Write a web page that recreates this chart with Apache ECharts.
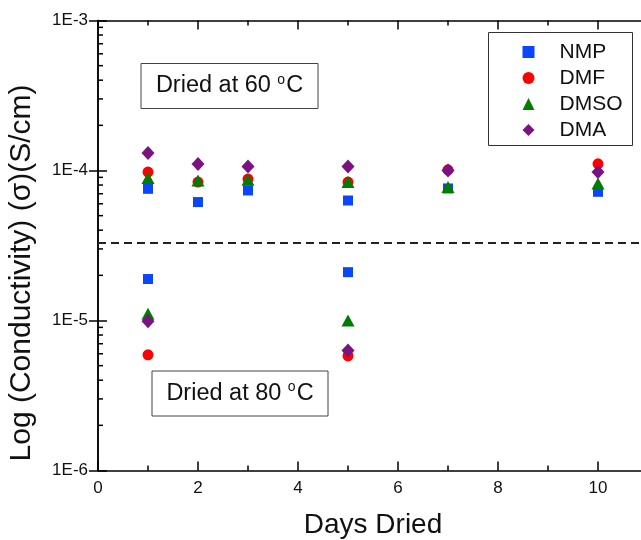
<!DOCTYPE html>
<html><head><meta charset="utf-8">
<script src="https://cdn.jsdelivr.net/npm/echarts@6/dist/echarts.min.js"></script>
<style>html,body{margin:0;padding:0;background:#fff}#c{width:641px;height:540px}</style>
</head><body><div id="c"></div>
<script>
const FONT = '"Liberation Sans", Arial, Helvetica, sans-serif';
const solvents = ['NMP', 'DMF', 'DMSO', 'DMA'];
const days60 = [1, 2, 3, 5, 7, 10];
const days80 = [1, 5];
const nmp60 = [7.55e-5, 6.16e-5, 7.36e-5, 6.31e-5, 7.59e-5, 7.21e-5];
const dmf60 = [9.76e-5, 8.37e-5, 8.76e-5, 8.37e-5, 1.01e-4, 1.108e-4];
const dmso60 = [8.9e-5, 8.58e-5, 8.67e-5, 8.37e-5, 7.75e-5, 8.19e-5];
const dma60 = [1.306e-4, 1.104e-4, 1.063e-4, 1.063e-4, 1.0e-4, 9.76e-5];
const nmp80 = [1.89e-5, 2.1e-5];
const dmf80 = [5.9e-6, 5.8e-6];
const dmso80 = [1.11e-5, 1.0e-5];
const dma80 = [9.9e-6, 6.3e-6];
const separatorValue = 3.28e-5;
const separatorDays = [0, 11];
const xTickLabels = ['0', '2', '4', '6', '8', '10'];
const yTickLabels = ['1E-6', '1E-5', '1E-4', '1E-3'];
const xName = 'Days Dried';
const yName = 'Log (Conductivity) (\u03C3)(S/cm)';

const values60 = [nmp60, dmf60, dmso60, dma60];
const values80 = [nmp80, dmf80, dmso80, dma80];
const colors = ['#0a45ff', '#ff0000', '#007c00', '#7a1282'];
const symbols = ['rect', 'circle', 'triangle', 'diamond'];
const sizes = [10, 11, [13, 12], [13, 14]];

function pairs(xs, ys) { return xs.map((x, i) => [x, ys[i]]); }

const chart = echarts.init(document.getElementById('c'), null, { renderer: 'canvas' });

const series = [{
  name: 'separator', type: 'line', xAxisIndex: 0, yAxisIndex: 0,
  showSymbol: false, symbol: 'none', silent: true, z: 2,
  lineStyle: { color: '#222', width: 2, type: [8, 5] },
  data: separatorDays.map(d => [d, separatorValue])
}].concat(solvents.map((name, i) => ({
  name, type: 'scatter', xAxisIndex: 0, yAxisIndex: 0,
  symbol: symbols[i], symbolSize: sizes[i], symbolKeepAspect: true,
  itemStyle: { color: colors[i], opacity: 1 },
  data: pairs(days60, values60[i]).concat(pairs(days80, values80[i])),
  z: 3 + i
})));

const axisLineStyle = { color: '#000', width: 1.5 };
function xAx(pos, main) {
  return {
    type: 'value', position: pos, min: 0, max: 11, interval: 2,
    axisLine: { show: true, onZero: false, lineStyle: axisLineStyle },
    axisTick: { show: true, inside: true, length: 9, lineStyle: { color: '#000', width: 1.5 } },
    splitLine: { show: false },
    axisLabel: main ? {
      show: true, margin: 9, fontSize: 17, color: '#111', fontFamily: FONT,
      showMaxLabel: false,
      formatter: v => { const k = xTickLabels.indexOf(String(v)); return k >= 0 ? xTickLabels[k] : ''; }
    } : { show: false },
    name: main ? xName : '', nameLocation: 'middle', nameGap: 41,
    nameTextStyle: { fontSize: 28, color: '#111', fontFamily: FONT }
  };
}
function yAx(pos, main) {
  return {
    type: 'log', logBase: 10, position: pos, min: 1e-6, max: 1e-3,
    axisLine: { show: true, lineStyle: axisLineStyle },
    axisTick: { show: true, inside: true, length: 9, lineStyle: { color: '#000', width: 1.5 } },
    splitLine: { show: false },
    axisLabel: main ? {
      show: true, margin: 10, fontSize: 17, color: '#111', fontFamily: FONT,
      formatter: v => { const e = Math.round(Math.log10(v)); return yTickLabels.find(s => s === '1E' + e) || ''; }
    } : { show: false }
  };
}

const richBox = {
  a: { fontSize: 23.5, fill: '#111', fontFamily: FONT, lineHeight: 26 },
  s: { fontSize: 14, fill: '#111', fontFamily: FONT, verticalAlign: 'top', lineHeight: 13, padding: [0, 1, 0, 0] }
};

chart.setOption({
  animation: false,
  backgroundColor: '#fff',
  textStyle: { fontFamily: FONT },
  grid: { left: 98, width: 550, top: 20.5, bottom: 69.5, containLabel: false, outerBoundsMode: 'none' },
  xAxis: [xAx('bottom', true), xAx('top', false)],
  yAxis: [yAx('left', true), yAx('right', false)],
  legend: {
    orient: 'vertical', left: 488.5, top: 32.5,
    data: solvents,
    itemWidth: 12, itemHeight: 12, itemGap: 5,
    padding: [9, 10, 5, 34],
    borderColor: '#333', borderWidth: 1, backgroundColor: '#fff',
    textStyle: { fontSize: 21, color: '#111', fontFamily: FONT, padding: [0, 0, 0, 20] },
    selectedMode: false
  },
  series,
  graphic: { elements: [
    { id: 'box60', type: 'rect', shape: { x: 141, y: 63.5, width: 177, height: 45 },
      style: { fill: '#fff', stroke: '#444', lineWidth: 1 }, z: 10 },
    { id: 'txt60', type: 'text', x: 229.5, y: 86, z: 11,
      style: { text: '{a|Dried at 60 }{s|o}{a|C}', align: 'center', verticalAlign: 'middle', rich: richBox } },
    { id: 'box80', type: 'rect', shape: { x: 152, y: 371, width: 176, height: 45 },
      style: { fill: '#fff', stroke: '#444', lineWidth: 1 }, z: 10 },
    { id: 'txt80', type: 'text', x: 240, y: 393.5, z: 11,
      style: { text: '{a|Dried at 80 }{s|o}{a|C}', align: 'center', verticalAlign: 'middle', rich: richBox } },
    { id: 'ytitle', type: 'text', x: 22, y: 273, rotation: Math.PI / 2, z: 11,
      style: { text: yName, align: 'center', verticalAlign: 'middle', fontSize: 30, fill: '#111', fontFamily: FONT } }
  ] }
});

// minor ticks through the library's scales
const minor = [];
const x0 = chart.convertToPixel({ xAxisIndex: 0 }, 0);
const x1 = chart.convertToPixel({ xAxisIndex: 0 }, 11);
const yb = chart.convertToPixel({ yAxisIndex: 0 }, 1e-6);
const yt = chart.convertToPixel({ yAxisIndex: 0 }, 1e-3);
const tickStyle = { stroke: '#000', lineWidth: 1.5 };
for (let e = -6; e < -3; e++) {
  for (let m = 2; m <= 9; m++) {
    const y = chart.convertToPixel({ yAxisIndex: 0 }, m * Math.pow(10, e));
    minor.push({ id: 'yl' + e + m, type: 'line', shape: { x1: x0, y1: y, x2: x0 + 5, y2: y }, style: tickStyle, z: 5 });
    minor.push({ id: 'yr' + e + m, type: 'line', shape: { x1: x1, y1: y, x2: x1 - 5, y2: y }, style: tickStyle, z: 5 });
  }
}
for (let d = 1; d < 11; d += 2) {
  const x = chart.convertToPixel({ xAxisIndex: 0 }, d);
  minor.push({ id: 'xb' + d, type: 'line', shape: { x1: x, y1: yb, x2: x, y2: yb - 5 }, style: tickStyle, z: 5 });
  minor.push({ id: 'xt' + d, type: 'line', shape: { x1: x, y1: yt, x2: x, y2: yt + 5 }, style: tickStyle, z: 5 });
}
chart.setOption({ graphic: { elements: minor } });
</script>
</body></html>
